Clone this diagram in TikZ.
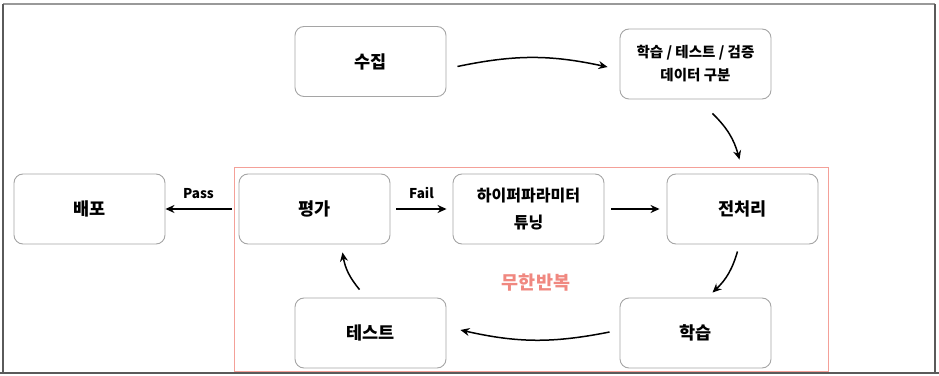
\documentclass[tikz,border=0pt]{standalone}
\usepackage{fontspec}
\setmainfont{Noto Sans CJK KR}
\usepackage{tikz}
\usetikzlibrary{arrows.meta, positioning, calc}
\definecolor{BoxGray}{RGB}{165,165,165}
\definecolor{LoopPink}{RGB}{244,160,152}
\definecolor{LoopText}{RGB}{240,136,128}
\definecolor{FrameGray}{RGB}{90,90,90}

\tikzset{
	stage/.style={draw=BoxGray, line width=0.9pt, rounded corners=9pt, minimum width=151pt,
		minimum height=70pt, align=center, font=\bfseries\fontsize{17.5}{27}\selectfont},
	flow/.style={line width=1.5pt, -{Stealth[length=9pt,width=8pt]}},
}

\begin{document}
\begin{tikzpicture}[x=1pt,y=1pt]
\useasboundingbox (0,0) rectangle (939,375);
% frame of the screenshot
\draw[black!40,line width=1.5pt] (3,371) -- (935,371);
\draw[FrameGray,line width=1.5pt] (3,371) -- (3,2);
\draw[FrameGray,line width=2pt] (935,371) -- (935,2);
\draw[FrameGray,line width=2.5pt] (0,2) -- (939,2);

% loop region
\draw[LoopPink,line width=1pt] (234,4) rectangle (828,207);
\node[font=\bfseries\fontsize{18.5}{20}\selectfont, text=LoopText] (loop) at (536,92) {무한반복};

\node[stage] (collect) at (370.5,313.5) {수집};
\node[stage, font=\bfseries\fontsize{14.5}{23}\selectfont] (split) at (695.5,311) {학습 / 테스트 / 검증\\데이터 구분};
\node[stage] (deploy) at (89.5,166) {배포};
\node[stage] (evaluate) at (314.5,166) {평가};
\node[stage, font=\bfseries\fontsize{16}{27}\selectfont] (tune) at (528.5,166) {하이퍼파라미터\\튜닝};
\node[stage] (preproc) at (742.5,166) {전처리};
\node[stage] (testbox) at (370.5,42) {테스트};
\node[stage] (train) at (695.5,42) {학습};

\draw[flow] ($(collect.east)+(11,-5)$) to[bend left=12] ($(split.west)+(-12,-3)$);
\draw[flow] ($(split.south)+(17,-14)$) to[bend left=15] ($(preproc.north)+(-3,14)$);
\draw[flow] ($(preproc.south)+(-5,-7)$) to[bend left=15] ($(train.north)+(17,5)$);
\draw[flow] ($(train.west)+(-10,1)$) to[bend left=12] ($(testbox.east)+(14,3)$);
\draw[flow] ($(testbox.north)+(-11,8)$) to[bend left=15] ($(evaluate.south)+(28,-8)$);

\draw[flow] ($(evaluate.west)+(-7,0)$) -- node[above=6pt, font=\bfseries\fontsize{13.5}{15}\selectfont] (pass) {Pass} (deploy.east);
\draw[flow] ($(evaluate.east)+(6,0)$) -- node[above=6pt, font=\bfseries\fontsize{13.5}{15}\selectfont] (fail) {Fail} ($(tune.west)+(-6,0)$);
\draw[flow] ($(tune.east)+(7,0)$) -- ($(preproc.west)+(-7,0)$);
\end{tikzpicture}
\end{document}
